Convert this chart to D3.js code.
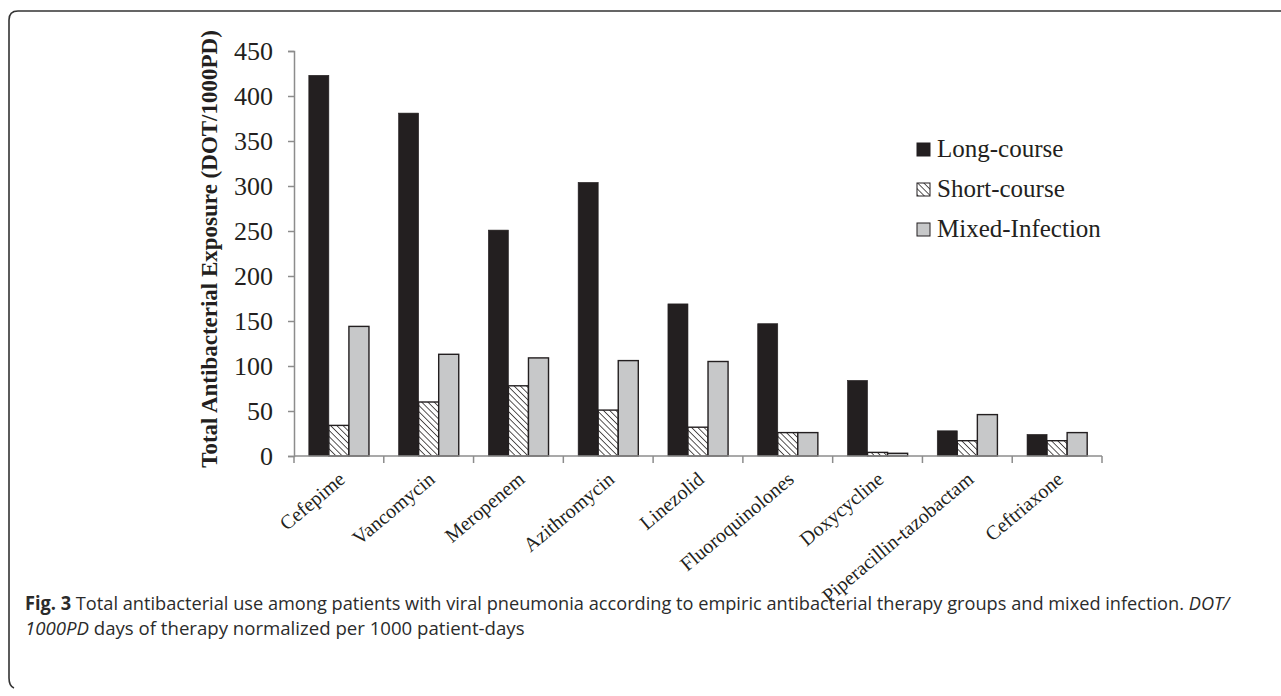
<!DOCTYPE html>
<html>
<head>
<meta charset="utf-8">
<script src="https://cdn.jsdelivr.net/npm/d3@7"></script>
<style>
  html, body { margin: 0; padding: 0; background: #fff; }
  svg { display: block; }
</style>
</head>
<body>
<svg id="chart" width="1281" height="696"></svg>
<script>
// Antibacterial agents on the x axis
const categories = ["Cefepime", "Vancomycin", "Meropenem", "Azithromycin", "Linezolid",
  "Fluoroquinolones", "Doxycycline", "Piperacillin-tazobactam", "Ceftriaxone"];

// DOT per 1000 patient-days, one array per group
const longCourse     = [423, 381, 251, 304, 169, 147, 84, 28, 24];
const shortCourse    = [34, 60, 78, 51, 32, 26, 4, 17, 17];
const mixedInfection = [144, 113, 109, 106, 105, 26, 3, 46, 26];

const seriesNames = ["Long-course", "Short-course", "Mixed-Infection"];
const yTicks = [0, 50, 100, 150, 200, 250, 300, 350, 400, 450];

const seriesValues = [longCourse, shortCourse, mixedInfection];
const rows = categories.map((c, i) => ({
  category: c,
  values: seriesNames.map((s, k) => ({ series: s, value: seriesValues[k][i] }))
}));

const svg = d3.select("#chart");
const ink = "#231f20";
const axisGrey = "#8c8c8c";
const serif = "'Liberation Serif', 'Times New Roman', serif";

// hatch pattern for the short-course bars (lines running top-left to bottom-right)
const defs = svg.append("defs");
const pat = defs.append("pattern")
  .attr("id", "hatch")
  .attr("patternUnits", "userSpaceOnUse")
  .attr("width", 4.4).attr("height", 4.4)
  .attr("patternTransform", "rotate(-45)");
pat.append("rect").attr("width", 4.4).attr("height", 4.4).attr("fill", "#fff");
pat.append("line").attr("x1", 0).attr("y1", 0).attr("x2", 0).attr("y2", 4.4)
  .attr("stroke", ink).attr("stroke-width", 1.5);

const fills = {
  "Long-course": ink,
  "Short-course": "url(#hatch)",
  "Mixed-Infection": "#c7c8c9"
};

// outer frame with rounded corners
svg.append("path")
  .attr("d", "M1290,11 L18,11 Q9,11 9,20 L9,678 Q9,686 14,688")
  .attr("fill", "none").attr("stroke", "#333").attr("stroke-width", 1.6);

// plot area bounds and scales
const plotLeft = 294, plotRight = 1102, plotTop = 51, plotBottom = 456;
const x0 = d3.scaleBand().domain(categories).range([plotLeft, plotRight])
  .paddingInner(0.33).paddingOuter(0.165);
const x1 = d3.scaleBand().domain(seriesNames).range([0, x0.bandwidth()]);
const y = d3.scaleLinear().domain([0, 450]).range([plotBottom, plotTop]);

// bars
const groups = svg.append("g").selectAll("g").data(rows).join("g")
  .attr("transform", d => `translate(${x0(d.category)},0)`);
groups.selectAll("rect").data(d => d.values).join("rect")
  .attr("x", d => x1(d.series))
  .attr("y", d => y(d.value))
  .attr("width", x1.bandwidth())
  .attr("height", d => plotBottom - y(d.value))
  .attr("fill", d => fills[d.series])
  .attr("stroke", ink)
  .attr("stroke-width", d => d.series === "Long-course" ? 0.6 : 1.4);

// y axis
const yAxis = svg.append("g").attr("transform", `translate(${plotLeft},0)`)
  .call(d3.axisLeft(y).tickValues(yTicks).tickSize(6).tickPadding(15));
yAxis.select(".domain").attr("stroke", axisGrey).attr("stroke-width", 1.5);
yAxis.selectAll(".tick line").attr("stroke", axisGrey).attr("stroke-width", 1.5);
yAxis.selectAll(".tick text")
  .attr("font-family", serif).attr("font-size", 26).attr("fill", ink);

// x axis line and category boundary ticks
svg.append("line")
  .attr("x1", plotLeft).attr("x2", plotRight).attr("y1", plotBottom).attr("y2", plotBottom)
  .attr("stroke", axisGrey).attr("stroke-width", 1.5);
const boundaries = categories.map(c => x0(c) - x0.step() * x0.paddingOuter()).concat([plotRight]);
svg.append("g").selectAll("line").data(boundaries).join("line")
  .attr("x1", d => d).attr("x2", d => d)
  .attr("y1", plotBottom).attr("y2", plotBottom + 7)
  .attr("stroke", axisGrey).attr("stroke-width", 1.5);

// rotated category labels
svg.append("g").selectAll("text").data(categories).join("text")
  .attr("transform", c => `translate(${x0(c) + x0.bandwidth() / 2 + 3},${plotBottom + 20}) rotate(-40)`)
  .attr("text-anchor", "end")
  .attr("dy", "0.35em")
  .attr("font-family", serif).attr("font-size", 20).attr("fill", ink)
  .text(c => c);

// y axis title
svg.append("text")
  .attr("transform", `translate(217,249) rotate(-90)`)
  .attr("text-anchor", "middle")
  .attr("font-family", serif).attr("font-weight", "bold")
  .attr("font-size", 23).attr("fill", ink)
  .text("Total Antibacterial Exposure (DOT/1000PD)");

// legend
const legend = svg.append("g").selectAll("g").data(seriesNames).join("g")
  .attr("transform", (d, i) => `translate(917,${143 + i * 40})`);
legend.append("rect")
  .attr("width", 13).attr("height", 13)
  .attr("fill", d => fills[d])
  .attr("stroke", ink).attr("stroke-width", 1);
legend.append("text")
  .attr("x", 20).attr("y", 14)
  .attr("font-family", serif).attr("font-size", 25).attr("fill", ink)
  .text(d => d);

// caption: a condensed look, made by squeezing each line to its width
const capFont = "'Open Sans', sans-serif";
function captionLine(yPos, width, parts) {
  const t = svg.append("text")
    .attr("font-family", capFont).attr("font-size", 19).attr("fill", "#2b2b2b");
  parts.forEach(p => {
    const s = t.append("tspan").text(p.text);
    if (p.bold) s.attr("font-weight", "bold");
    if (p.italic) s.attr("font-style", "italic");
  });
  const natural = t.node().getComputedTextLength();
  t.attr("transform", `translate(25,${yPos}) scale(${width / natural},1)`);
}
captionLine(610, 1205, [
  { text: "Fig. 3", bold: true },
  { text: " Total antibacterial use among patients with viral pneumonia according to empiric antibacterial therapy groups and mixed infection. " },
  { text: "DOT/", italic: true }
]);
captionLine(635, 500, [
  { text: "1000PD", italic: true },
  { text: " days of therapy normalized per 1000 patient-days" }
]);
</script>
</body>
</html>
